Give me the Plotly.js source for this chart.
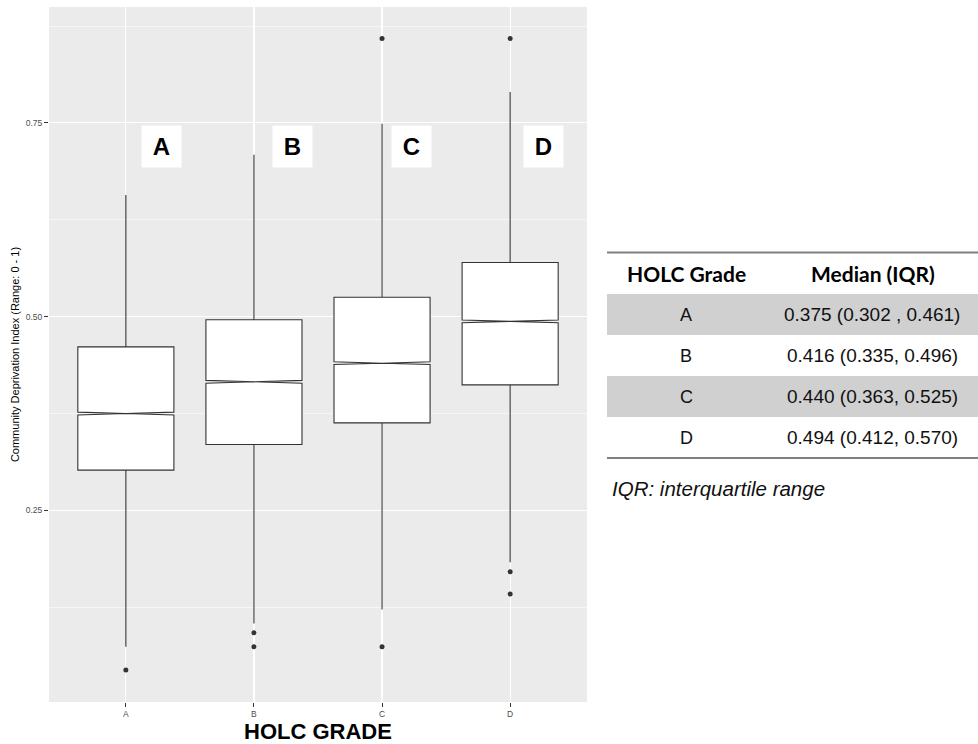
<!DOCTYPE html>
<html><head><meta charset="utf-8">
<script src="https://cdn.plot.ly/plotly-3.0.1.min.js"></script>
<style>html,body{margin:0;padding:0;background:#fff;} #chart{width:978px;height:744px;}</style>
</head><body><div id="chart"></div>
<script>
// ---- data ----
const grades = ['A', 'B', 'C', 'D'];
const q1 = [0.302, 0.335, 0.363, 0.412];
const median = [0.375, 0.416, 0.440, 0.494];
const q3 = [0.461, 0.496, 0.525, 0.570];
const lowerWhisker = [0.074, 0.104, 0.122, 0.183];
const upperWhisker = [0.657, 0.709, 0.749, 0.790];
const notchHalfSpan = [0.0018, 0.0018, 0.0018, 0.0018];
const outlierGrade = ['A', 'B', 'B', 'C', 'C', 'D', 'D', 'D'];
const outlierValue = [0.044, 0.092, 0.074, 0.074, 0.859, 0.859, 0.171, 0.142];
const yTickVals = [0.25, 0.50, 0.75];
const yTickText = ['0.25', '0.50', '0.75'];
const yMinorVals = [0.125, 0.375, 0.625, 0.875];
const panelLabels = ['A', 'B', 'C', 'D'];
const tableHeader = ['HOLC Grade', 'Median (IQR)'];
const tableGrade = ['A', 'B', 'C', 'D'];
const tableMedianIQR = ['0.375 (0.302 , 0.461)', '0.416 (0.335, 0.496)', '0.440 (0.363, 0.525)', '0.494 (0.412, 0.570)'];
const footnote = 'IQR: interquartile range';
const xTitle = 'HOLC GRADE';
const yTitle = 'Community Deprivation Index (Range: 0 - 1)';

// ---- layout helpers ----
const M = {l: 49, r: 391, t: 7, b: 42};
const W = 978 - M.l - M.r, H = 744 - M.t - M.b;
const px = x => (x - M.l) / W;
const py = y => (744 - M.b - y) / H;

const labelDx = [0.28, 0.30, 0.23, 0.26];
const labelY = 0.72;

const traces = [
  {
    type: 'box', x: grades, q1: q1, median: median, q3: q3,
    lowerfence: lowerWhisker, upperfence: upperWhisker,
    notched: true, notchspan: notchHalfSpan, notchwidth: 0.5,
    width: 0.75, boxpoints: false, whiskerwidth: 0,
    fillcolor: '#ffffff', line: {color: '#333333', width: 1.1},
    hoverinfo: 'skip', showlegend: false
  },
  {
    type: 'scatter', mode: 'markers', x: outlierGrade, y: outlierValue,
    marker: {size: 5, color: '#333333'}, hoverinfo: 'skip', showlegend: false
  }
];

const annotations = [];
panelLabels.forEach((t, i) => {
  annotations.push({
    x: i + labelDx[i], y: labelY, xref: 'x', yref: 'y', text: '<b>' + t + '</b>',
    showarrow: false, xanchor: 'center', yanchor: 'middle',
    font: {family: 'Liberation Sans, Arial', size: 24, color: '#000'},
    bgcolor: '#ffffff', borderpad: 5, width: 29, height: 31
  });
});

const colX = [686, 873];
tableHeader.forEach((t, j) => {
  annotations.push({
    x: px(colX[j]), y: py(273), xref: 'paper', yref: 'paper', text: '<b>' + t + '</b>',
    showarrow: false, xanchor: 'center', yanchor: 'middle',
    font: {family: 'Lato, Open Sans', size: 21, color: '#000'}
  });
});
const rowTop = 294, rowH = 41;
const shapes = [];
tableGrade.forEach((g, i) => {
  const cy = rowTop + rowH * i + rowH / 2;
  if (i % 2 === 0) {
    shapes.push({type: 'rect', xref: 'paper', yref: 'paper', x0: px(607), x1: px(978),
      y0: py(rowTop + rowH * i), y1: py(rowTop + rowH * (i + 1)),
      fillcolor: '#d0d0d0', line: {width: 0}});
  }
  annotations.push({
    x: px(colX[0]), y: py(cy), xref: 'paper', yref: 'paper', text: g,
    showarrow: false, xanchor: 'center', yanchor: 'middle',
    font: {family: 'Liberation Sans, Arial', size: 18, color: '#111'}
  });
  annotations.push({
    x: px(872), y: py(cy), xref: 'paper', yref: 'paper', text: tableMedianIQR[i],
    showarrow: false, xanchor: 'center', yanchor: 'middle',
    font: {family: 'Liberation Sans, Arial', size: 19, color: '#111'}
  });
});
shapes.push({type: 'line', xref: 'paper', yref: 'paper', x0: px(607), x1: px(978), y0: py(252.5), y1: py(252.5), line: {color: '#808080', width: 2}});
shapes.push({type: 'line', xref: 'paper', yref: 'paper', x0: px(607), x1: px(978), y0: py(458), y1: py(458), line: {color: '#808080', width: 2}});
annotations.push({
  x: px(610), y: py(489), xref: 'paper', yref: 'paper', text: '<i>' + footnote + '</i>',
  showarrow: false, xanchor: 'left', yanchor: 'middle',
  font: {family: 'Liberation Sans, Arial', size: 20.5, color: '#111'}
});

const layout = {
  width: 978, height: 744, margin: M,
  paper_bgcolor: '#ffffff', plot_bgcolor: '#EBEBEB',
  showlegend: false,
  xaxis: {
    type: 'category', categoryorder: 'array', categoryarray: grades,
    range: [-0.6, 3.6], showgrid: true, gridcolor: '#ffffff', gridwidth: 1.1,
    zeroline: false, showline: false,
    ticks: 'outside', ticklen: 4, tickwidth: 1, tickcolor: '#333333',
    tickfont: {family: 'Liberation Sans, Arial', size: 8.5, color: '#4d4d4d'},
    title: {text: '<b>' + xTitle + '</b>', standoff: 8,
      font: {family: 'Liberation Sans, Arial', size: 22, color: '#000'}},
    automargin: false
  },
  yaxis: {
    range: [0.0028, 0.8996], tickmode: 'array', tickvals: yTickVals, ticktext: yTickText,
    showgrid: true, gridcolor: '#ffffff', gridwidth: 1.1,
    minor: {tickmode: 'array', tickvals: yMinorVals, showgrid: true, gridcolor: '#ffffff', gridwidth: 0.55, ticks: ''},
    zeroline: false, showline: false,
    ticks: 'outside', ticklen: 4, tickwidth: 1, tickcolor: '#333333',
    tickfont: {family: 'Liberation Sans, Arial', size: 8.5, color: '#4d4d4d'},
    title: {text: yTitle, standoff: 3,
      font: {family: 'Liberation Sans, Arial', size: 11, color: '#000'}},
    automargin: false
  },
  annotations: annotations,
  shapes: shapes
};

Plotly.newPlot('chart', traces, layout, {displayModeBar: false, staticPlot: true});
</script>
</body></html>
